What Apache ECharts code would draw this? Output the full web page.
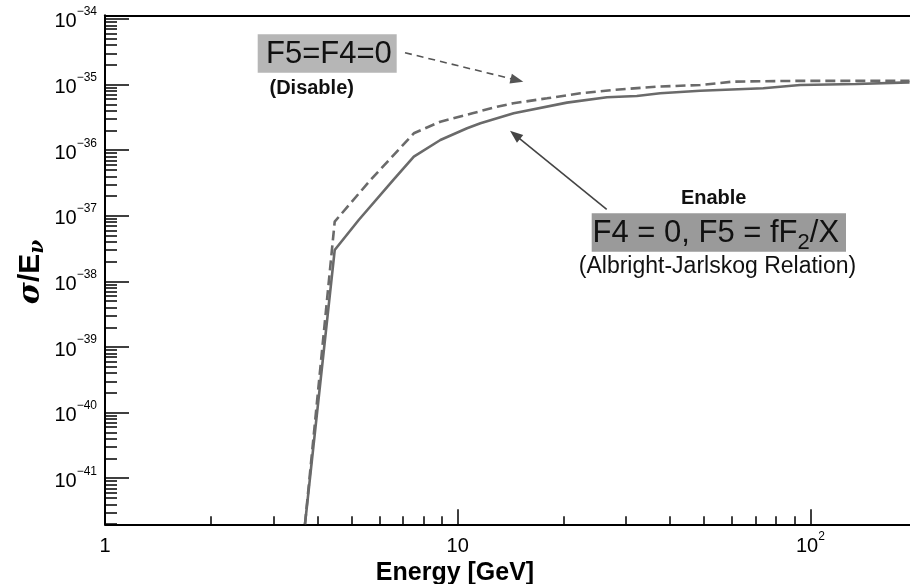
<!DOCTYPE html>
<html>
<head>
<meta charset="utf-8">
<script src="https://cdn.jsdelivr.net/npm/echarts@6/dist/echarts.min.js"></script>
<style>
  html, body { margin: 0; padding: 0; background: #ffffff; }
  #chart { width: 910px; height: 584px; }
</style>
</head>
<body>
<div id="chart"></div>
<script>
// Neutrino energy [GeV] and cross section per energy, form factor F5 enabled (Albright-Jarlskog)
const energyEnable = [3.69, 4.48, 5.24, 6.57, 7.51, 8.93, 10.63, 11.6, 14.41, 20.4, 26.5, 32.2, 37.5, 48.7, 73.5, 93.5, 135, 191];
const sigmaEnable  = [2.0e-42, 3.01e-38, 8.63e-38, 3.52e-37, 7.96e-37, 1.43e-36, 2.16e-36, 2.57e-36, 3.66e-36, 5.31e-36, 6.41e-36, 6.70e-36, 7.38e-36, 8.07e-36, 8.79e-36, 9.86e-36, 1.02e-35, 1.08e-35];

// Same quantity with F4 = F5 = 0
const energyDisable = [3.69, 4.48, 5.66, 7.51, 8.93, 11.08, 12.93, 14.38, 17.92, 22.27, 27.6, 36.7, 48.7, 60.4, 91.5, 191];
const sigmaDisable  = [2.0e-42, 8.15e-38, 3.52e-37, 1.81e-36, 2.72e-36, 3.69e-36, 4.60e-36, 5.19e-36, 6.18e-36, 7.38e-36, 8.28e-36, 9.29e-36, 9.86e-36, 1.11e-35, 1.14e-35, 1.14e-35];

// Axis ranges and tick positions
const xRange = [1, 191.6];
const yRange = [1.986e-42, 1.138e-34];
const xMajorTicks = [1, 10, 100];
const yMajorTicks = [1e-41, 1e-40, 1e-39, 1e-38, 1e-37, 1e-36, 1e-35, 1e-34];
const minorMultipliers = [2, 3, 4, 5, 6, 7, 8, 9];

// The y axis runs in multiples of Y_UNIT so the log scale never rounds tiny values to zero
const Y_UNIT = 1e-42;
const Y_UNIT_EXP = -42;
const toAxisY = v => v / Y_UNIT;

const xMinorTicks = [];
xMajorTicks.forEach(m => minorMultipliers.forEach(k => xMinorTicks.push(m * k)));
const yMinorTicks = [];
[1e-42].concat(yMajorTicks).forEach(m => minorMultipliers.forEach(k => yMinorTicks.push(toAxisY(m) * k)));

const FONT = 'Liberation Sans, Arial, Helvetica, sans-serif';
const INK = '#000000';
const CURVE = '#6a6a6a';
const ZWS = '\u200b';

function powerText(e) {
  if (e === 0) return '{b|1}{s|' + ZWS + '}';
  if (e === 1) return '{b|10}{s|' + ZWS + '}';
  return '{b|10}{s|' + (e < 0 ? '\u2212' : '') + Math.abs(e) + '}';
}
const xLabel = v => powerText(Math.round(Math.log10(v)));
const yLabel = v => powerText(Math.round(Math.log10(v)) + Y_UNIT_EXP);

const tickRich = {
  b: { fontFamily: FONT, fontSize: 20, color: INK, padding: [6, 0, 0, 0] },
  s: { fontFamily: FONT, fontSize: 12, color: INK, padding: [0, 0, 14, 0] }
};

// arrow head polygon pointing at (x2, y2)
function arrowHead(x1, y1, x2, y2, len, half) {
  const a = Math.atan2(y2 - y1, x2 - x1);
  const bx = x2 - len * Math.cos(a), by = y2 - len * Math.sin(a);
  const nx = -Math.sin(a) * half, ny = Math.cos(a) * half;
  return [[x2, y2], [bx + nx, by + ny], [bx - nx, by - ny]];
}
function arrowShaftEnd(x1, y1, x2, y2, len) {
  const a = Math.atan2(y2 - y1, x2 - x1);
  return [x2 - len * Math.cos(a), y2 - len * Math.sin(a)];
}

const dashFrom = [405, 52.7], dashTo = [523.3, 81.7];
const solidFrom = [606.7, 209.3], solidTo = [510, 130.7];
const dashEnd = arrowShaftEnd(dashFrom[0], dashFrom[1], dashTo[0], dashTo[1], 10);
const solidEnd = arrowShaftEnd(solidFrom[0], solidFrom[1], solidTo[0], solidTo[1], 10);

const chart = echarts.init(document.getElementById('chart'), null, { renderer: 'canvas' });

const logAxisBase = {
  type: 'log',
  logBase: 10,
  splitLine: { show: false },
  minorTick: { show: false },
  minorSplitLine: { show: false }
};

const option = {
  backgroundColor: '#ffffff',
  animation: false,
  grid: {
    left: 105, right: 0, top: 15.3, bottom: 59.7,
    containLabel: false,
    outerBoundsMode: 'none'
  },
  xAxis: [
    Object.assign({}, logAxisBase, {
      min: xRange[0], max: xRange[1], position: 'bottom',
      axisLine: { show: true, lineStyle: { color: INK, width: 2 } },
      axisTick: { show: true, inside: true, length: 15, customValues: xMajorTicks, lineStyle: { color: INK, width: 1.5 } },
      axisLabel: {
        show: true, customValues: xMajorTicks, margin: 6, formatter: xLabel, rich: tickRich,
        color: INK, fontFamily: FONT, fontSize: 20
      }
    }),
    Object.assign({}, logAxisBase, {
      min: xRange[0], max: xRange[1], position: 'bottom',
      axisLine: { show: false },
      axisTick: { show: true, inside: true, length: 8, customValues: xMinorTicks, lineStyle: { color: INK, width: 1.5 } },
      axisLabel: { show: false }
    }),
    Object.assign({}, logAxisBase, {
      min: xRange[0], max: xRange[1], position: 'top',
      axisLine: { show: true, lineStyle: { color: INK, width: 2 } },
      axisTick: { show: false },
      axisLabel: { show: false }
    })
  ],
  yAxis: [
    Object.assign({}, logAxisBase, {
      min: toAxisY(yRange[0]), max: toAxisY(yRange[1]), position: 'left',
      axisLine: { show: true, lineStyle: { color: INK, width: 2 } },
      axisTick: { show: true, inside: true, length: 24, customValues: yMajorTicks.map(toAxisY), lineStyle: { color: INK, width: 1.5 } },
      axisLabel: {
        show: true, customValues: yMajorTicks.map(toAxisY), margin: 8, formatter: yLabel, rich: tickRich,
        color: INK, fontFamily: FONT, fontSize: 20
      }
    }),
    Object.assign({}, logAxisBase, {
      min: toAxisY(yRange[0]), max: toAxisY(yRange[1]), position: 'left',
      axisLine: { show: false },
      axisTick: { show: true, inside: true, length: 12, customValues: yMinorTicks, lineStyle: { color: INK, width: 1.5 } },
      axisLabel: { show: false }
    })
  ],
  series: [
    {
      name: 'Enable',
      type: 'line',
      xAxisIndex: 0, yAxisIndex: 0,
      data: energyEnable.map((e, i) => [e, toAxisY(sigmaEnable[i])]),
      showSymbol: false, symbol: 'none',
      clip: true,
      lineStyle: { color: CURVE, width: 2.6, type: 'solid' },
      z: 3
    },
    {
      name: 'Disable',
      type: 'line',
      xAxisIndex: 0, yAxisIndex: 0,
      data: energyDisable.map((e, i) => [e, toAxisY(sigmaDisable[i])]),
      showSymbol: false, symbol: 'none',
      clip: true,
      lineStyle: { color: CURVE, width: 2.6, type: [10, 5] },
      z: 3
    }
  ],
  graphic: [
    // axis titles
    {
      type: 'text', x: 455, y: 573, z: 10,
      style: { text: 'Energy [GeV]', font: 'bold 25px ' + FONT, fill: INK, align: 'center', verticalAlign: 'middle' }
    },
    {
      type: 'text', x: 31, y: 272, rotation: Math.PI / 2, z: 10,
      style: {
        text: '{g|σ}{n|/E}{u|ν}', align: 'center', verticalAlign: 'middle',
        rich: {
          g: { font: 'italic bold 30px DejaVu Serif, serif', fill: INK },
          n: { font: 'bold 30px ' + FONT, fill: INK },
          u: { font: 'italic bold 20px DejaVu Serif, serif', fill: INK, padding: [14, 0, 0, 0] }
        }
      }
    },
    // F5=F4=0 label
    { type: 'rect', shape: { x: 257.7, y: 34.3, width: 139, height: 38.4 }, style: { fill: '#b6b6b6' }, z: 10 },
    {
      type: 'text', x: 266, y: 54, z: 11,
      style: { text: 'F5=F4=0', font: '31px ' + FONT, fill: '#111111', align: 'left', verticalAlign: 'middle' }
    },
    {
      type: 'text', x: 311.7, y: 88.3, z: 11,
      style: { text: '(Disable)', font: 'bold 20px ' + FONT, fill: '#111111', align: 'center', verticalAlign: 'middle' }
    },
    // dashed arrow towards the F4 = F5 = 0 curve
    {
      type: 'line', z: 11,
      shape: { x1: dashFrom[0], y1: dashFrom[1], x2: dashEnd[0], y2: dashEnd[1] },
      style: { stroke: '#555555', lineWidth: 1.6, lineDash: [7, 5] }
    },
    {
      type: 'polygon', z: 11,
      shape: { points: arrowHead(dashFrom[0], dashFrom[1], dashTo[0], dashTo[1], 13, 5) },
      style: { fill: '#555555' }
    },
    // solid arrow towards the Albright-Jarlskog curve
    {
      type: 'line', z: 11,
      shape: { x1: solidFrom[0], y1: solidFrom[1], x2: solidEnd[0], y2: solidEnd[1] },
      style: { stroke: '#444444', lineWidth: 1.6 }
    },
    {
      type: 'polygon', z: 11,
      shape: { points: arrowHead(solidFrom[0], solidFrom[1], solidTo[0], solidTo[1], 13, 5) },
      style: { fill: '#444444' }
    },
    {
      type: 'text', x: 713.7, y: 198.3, z: 11,
      style: { text: 'Enable', font: 'bold 20px ' + FONT, fill: '#111111', align: 'center', verticalAlign: 'middle' }
    },
    { type: 'rect', shape: { x: 591.7, y: 213.3, width: 254.3, height: 38.4 }, style: { fill: '#9a9a9a' }, z: 10 },
    {
      type: 'text', x: 592.5, y: 233, z: 11,
      style: {
        text: '{m|F4 = 0, F5 = fF}{d|2}{m|/X}', align: 'left', verticalAlign: 'middle',
        rich: {
          m: { font: '31px ' + FONT, fill: '#111111' },
          d: { font: '22px ' + FONT, fill: '#111111', padding: [20, 0, 0, 0] }
        }
      }
    },
    {
      type: 'text', x: 717.5, y: 267, z: 11,
      style: { text: '(Albright-Jarlskog Relation)', font: '23px ' + FONT, fill: '#111111', align: 'center', verticalAlign: 'middle' }
    }
  ]
};

chart.setOption(option);
</script>
</body>
</html>
